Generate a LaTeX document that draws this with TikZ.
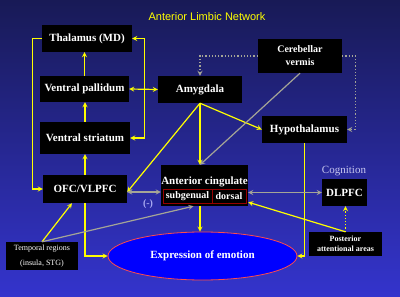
\documentclass[tikz,border=0pt]{standalone}
\usepackage{fontspec}
\setmainfont{Liberation Serif}
\newfontfamily\titlefont{Liberation Sans}
\usetikzlibrary{shapes.geometric}
\definecolor{bgtop}{RGB}{24,26,86}
\definecolor{bgmid}{RGB}{44,44,170}
\definecolor{bgbot}{RGB}{52,52,205}
\definecolor{linkyellow}{RGB}{255,255,0}
\definecolor{linkgrey}{RGB}{165,165,150}
\definecolor{lavender}{RGB}{200,200,240}
\definecolor{rimred}{RGB}{150,0,0}
\begin{document}
\begin{tikzpicture}[>=stealth, x=1pt, y=-1pt,
    region/.style={fill=black, text=white, inner sep=0pt,
      font=\fontsize{11}{13}\selectfont\bfseries},
    smallregion/.style={fill=black, text=white, inner sep=0pt, align=center},
    part/.style={draw=rimred, line width=0.8pt, text=white, inner sep=0pt,
      minimum height=14pt, font=\fontsize{10}{12}\selectfont\bfseries},
    link/.style={draw=linkyellow, line width=1.2pt},
    greylink/.style={draw=linkgrey, line width=1.2pt}]

  % Hintergrund
  \useasboundingbox (0,0) rectangle (400,297);
  \shade[top color=bgtop, middle color=bgmid, bottom color=bgbot]
    (0,0) rectangle (400,297);

  % Titel
  \node[text=linkyellow, font=\titlefont\fontsize{11}{13}\selectfont]
    (title) at (207,17) {Anterior Limbic Network};

  % Linke Schleife
  \node[region, minimum width=90pt, minimum height=27pt] (thal) at (87,38.5) {Thalamus (MD)};
  \node[region, minimum width=89pt, minimum height=26pt] (pall) at (84.5,89) {Ventral pallidum};
  \node[region, minimum width=90pt, minimum height=32pt] (stri) at (85,138) {Ventral striatum};
  \node[region, minimum width=84pt, minimum height=28pt] (ofc) at (85,189) {OFC/VLPFC};

  % Mitte
  \node[region, minimum width=84pt, minimum height=27pt] (amyg) at (200,89.5) {Amygdala};
  \node[region, minimum width=87pt, minimum height=41pt] (acc) at (204.5,185.5) {};
  \node[part, minimum width=49pt] (sub) at (187.5,196.5) {subgenual};
  \node[part, minimum width=34pt] (dors) at (229,196.5) {dorsal};
  \node[text=white, inner sep=0pt, font=\fontsize{11}{13}\selectfont\bfseries]
    (acctitle) at (204.5,182) {Anterior cingulate};

  % Rechts
  \node[smallregion, minimum width=84pt, minimum height=34pt,
    font=\fontsize{10}{13}\selectfont\bfseries] (verm) at (300,56) {Cerebellar\\vermis};
  \node[region, minimum width=85pt, minimum height=27pt] (hypo) at (304.5,129.5) {Hypothalamus};
  \node[region, minimum width=45pt, minimum height=27pt] (dlpfc) at (344.5,192.5) {DLPFC};
  \node[text=lavender, font=\fontsize{11}{13}\selectfont] (cogn) at (344,171) {Cognition};

  % Unten
  \node[smallregion, minimum width=72pt, minimum height=28pt,
    font=\fontsize{8}{15}\selectfont] (temp) at (42,256) {Temporal regions\\(insula, STG)};
  \node[smallregion, minimum width=73pt, minimum height=24pt,
    font=\fontsize{8}{10}\selectfont\bfseries] (post) at (345.5,244) {Posterior\\attentional areas};
  \node[ellipse, fill=blue, draw=red!70!white, line width=0.8pt, text=white,
    minimum width=189pt, minimum height=48pt, inner sep=0pt,
    font=\fontsize{11}{13}\selectfont\bfseries] (emo) at (202.5,256) {Expression of emotion};
  \node[text=lavender!85!blue, font=\fontsize{10}{12}\selectfont\bfseries] (minus) at (148,204) {(-)};

  % Verbindungen links
  \draw[link, ->] (thal.west) -- ++(-9,0) |- (ofc.west);
  \draw[link, <->] (thal.east) -- ++(12,0) |- (stri.east);
  \draw[link, <->] (pall.east) -- (amyg.west);
  \draw[link, ->] (pall.north) -- (pall.north |- thal.south);
  \draw[link, ->] (stri.north) -- (stri.north |- pall.south);
  \draw[link, ->] (ofc.north) -- (ofc.north |- stri.south);
  \draw[link, ->] (ofc.south) |- (emo.west);
  \draw[link, ->] (temp.north) -- ([xshift=-13pt]ofc.south);
  \draw[greylink, ->] (temp.north) -- ([xshift=-11pt]acc.south);

  % Verbindungen Amygdala
  \draw[link, ->] (amyg.south) -- ([yshift=-3pt]ofc.east);
  \draw[link, ->] (amyg.south) -- (hypo.west);
  \draw[link, ->] (amyg.south) -- (amyg.south |- acc.north);
  \draw[link, ->] (amyg.south |- acc.south) -- (amyg.south |- emo.north);

  % Verbindungen Kleinhirn
  \draw[greylink, ->] (verm.south) -- (amyg.south |- acc.north);
  \draw[greylink, dotted, ->] (verm.west) -| (amyg.north);
  \draw[greylink, dotted, ->] (verm.east) -- ++(13,0) |- (hypo.east);

  % Verbindungen rechts
  \draw[link, ->] (hypo.south) |- (emo.east);
  \draw[greylink, <->] ([yshift=-3pt]ofc.east) -- ([yshift=-3pt]ofc.east -| acc.west);
  \draw[greylink, <->] (dlpfc.west -| acc.east) -- (dlpfc.west);
  \draw[link, ->] (post.north) -- ([yshift=4pt]acc.south east);
  \draw[link, dotted, ->] (post.north) -- (post.north |- dlpfc.south);

\end{tikzpicture}
\end{document}
